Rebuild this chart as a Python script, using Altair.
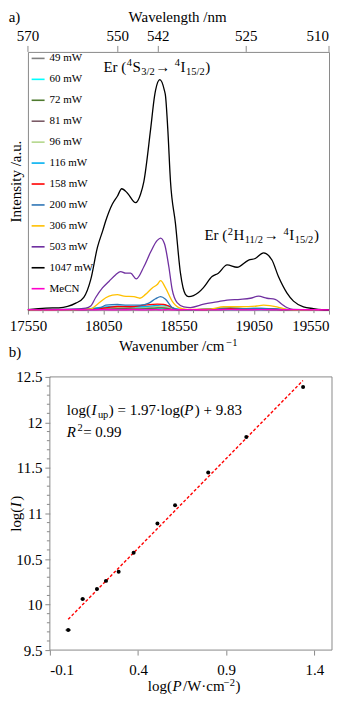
import altair as alt
import pandas as pd

FONT = "Liberation Serif"
FRAME = "#8a8a8a"

# ---------------- panel a: emission spectra ----------------
series_names = ["49 mW", "60 mW", "72 mW", "81 mW", "96 mW", "116 mW", "158 mW",
                "200 mW", "306 mW", "503 mW", "1047 mW", "MeCN"]
series_colors = ["#808080", "#00FFFF", "#4E7A2E", "#7B5B66", "#B4D78C", "#00B0F0",
                 "#FF0000", "#2E75B6", "#FFC000", "#7030A0", "#000000", "#FF00CC"]

wn_1047 = [17550, 17669, 17755, 17868, 17921, 17967, 18012, 18047, 18067, 18111, 18144,
           18173, 18210, 18265, 18298, 18320, 18365, 18391, 18398, 18426, 18456, 18464,
           18479, 18497, 18530, 18563, 18596, 18618, 18683, 18716, 18773, 18815, 18873,
           18939, 19016, 19060, 19115, 19171, 19214, 19270, 19314, 19380, 19446, 19502, 19550]
int_1047 = [0.2, 0.8, 0.9, 2.7, 4.9, 11.8, 24.4, 30.8, 34.6, 41.1, 44.1,
            47.0, 45.4, 41.6, 44.9, 49.8, 70.1, 82.9, 85.2, 89.3, 85.2, 82.9,
            70.1, 49.8, 33.5, 14.4, 6.1, 5.2, 6.8, 8.7, 13.0, 14.3, 17.5,
            16.6, 19.4, 20.0, 22.2, 19.4, 13.0, 6.7, 3.5, 1.3, 0.6, 0.2, 0.1]

wn_503 = [17550, 17700, 17835, 17934, 17967, 18000, 18045, 18088, 18133, 18166, 18199,
          18232, 18270, 18320, 18365, 18409, 18431, 18457, 18486, 18508, 18541, 18585,
          18630, 18718, 18806, 18873, 18961, 19027, 19082, 19138, 19192, 19237, 19270,
          19312, 19400, 19550]
int_503 = [0.2, 0.3, 0.4, 0.8, 1.6, 4.9, 8.6, 11.1, 13.7, 14.9, 14.3,
           14.3, 12.1, 16.8, 22.5, 27.0, 27.9, 25.7, 16.8, 8.0, 2.9, 1.3,
           1.0, 2.3, 3.2, 3.9, 4.2, 4.6, 5.4, 4.6, 4.2, 2.3, 1.0,
           0.3, 0.2, 0.1]

wn_306 = [17550, 17800, 17967, 18012, 18067, 18111, 18144, 18188, 18254, 18294, 18331,
          18376, 18409, 18431, 18464, 18508, 18552, 18608, 18762, 18850, 18961, 19071,
          19115, 19204, 19270, 19400, 19550]
int_306 = [0.1, 0.2, 0.5, 2.3, 4.8, 5.8, 6.0, 5.4, 5.2, 4.6, 6.1,
           8.6, 9.9, 11.4, 8.6, 3.5, 1.0, 0.3, 0.4, 1.3, 1.3, 1.6,
           1.9, 1.3, 0.3, 0.1, 0.1]

wn_200 = [17550, 17800, 17967, 18033, 18067, 18144, 18210, 18298, 18353, 18398, 18431,
          18464, 18508, 18541, 18650, 18800, 18895, 19000, 19100, 19250, 19550]
int_200 = [0.1, 0.2, 0.4, 1.0, 1.9, 2.2, 1.9, 1.9, 2.7, 4.4, 5.2,
           4.2, 1.0, 0.2, 0.2, 0.6, 1.0, 0.6, 0.7, 0.2, 0.1]

wn_158 = [17550, 17800, 17967, 18078, 18144, 18232, 18320, 18409, 18453, 18497, 18541,
          18650, 18800, 18900, 19000, 19100, 19250, 19550]
int_158 = [0.1, 0.2, 0.3, 1.0, 1.4, 1.3, 1.9, 2.3, 2.2, 1.3, 0.2,
           0.2, 0.4, 0.6, 0.5, 0.6, 0.2, 0.1]

wn_small = [17550, 17700, 17850, 17950, 18050, 18150, 18250, 18330, 18400, 18440,
            18480, 18530, 18600, 18750, 18900, 19000, 19100, 19200, 19300, 19550]
int_116 = [0.2, 0.2, 0.3, 0.5, 1.2, 1.5, 1.3, 1.4, 1.8, 2.0, 1.6, 0.6, 0.2, 0.4, 0.6, 0.6, 0.7, 0.5, 0.2, 0.1]
int_96 = [0.1, 0.2, 0.2, 0.4, 0.9, 1.1, 1.0, 1.1, 1.4, 1.5, 1.2, 0.4, 0.2, 0.3, 0.5, 0.5, 0.5, 0.4, 0.1, 0.1]
int_81 = [0.1, 0.1, 0.2, 0.3, 0.7, 0.8, 0.8, 0.9, 1.1, 1.2, 0.9, 0.3, 0.1, 0.3, 0.4, 0.4, 0.4, 0.3, 0.1, 0.0]
int_72 = [0.1, 0.1, 0.1, 0.2, 0.5, 0.6, 0.6, 0.7, 0.8, 0.9, 0.7, 0.2, 0.1, 0.2, 0.3, 0.3, 0.3, 0.2, 0.1, 0.0]
int_60 = [0.1, 0.1, 0.1, 0.2, 0.4, 0.5, 0.5, 0.5, 0.6, 0.7, 0.5, 0.2, 0.1, 0.2, 0.2, 0.2, 0.2, 0.2, 0.1, 0.0]
int_49 = [0.0, 0.1, 0.1, 0.1, 0.3, 0.3, 0.3, 0.4, 0.4, 0.5, 0.4, 0.1, 0.1, 0.1, 0.2, 0.2, 0.2, 0.1, 0.0, 0.0]
int_mecn = [0.2, 0.1, 0.2, 0.1, 0.2, 0.1, 0.2, 0.1, 0.2, 0.1, 0.2, 0.1, 0.2, 0.1, 0.2, 0.1, 0.2, 0.1, 0.2, 0.1]

wavenumber_ticks = [17550, 18050, 18550, 19050, 19550]
wavenumber_minor = [17650, 17750, 17850, 17950, 18150, 18250, 18350, 18450,
                    18650, 18750, 18850, 18950, 19150, 19250, 19350, 19450]
wavelength_labels = ["570", "550", "542", "525", "510"]
wavelength_pos = [17550, 18147, 18416, 19000, 19550]

# ---------------- panel b: power dependence ----------------
logP = [0.004, 0.086, 0.167, 0.218, 0.290, 0.375, 0.510, 0.610, 0.798, 1.014, 1.336]
logI = [9.72, 10.06, 10.17, 10.26, 10.36, 10.57, 10.89, 11.09, 11.45, 11.84, 12.39]
logP_err = [0.015, 0.012, 0.008, 0.008, 0.008, 0.006, 0.006, 0.006, 0.006, 0.006, 0.006]
fit_slope = 1.97
fit_intercept = 9.83
fit_x = [0.004, 1.335]
logI_ticks = [9.5, 10, 10.5, 11, 11.5, 12, 12.5]
logI_minor = [9.6, 9.7, 9.8, 9.9, 10.1, 10.2, 10.3, 10.4, 10.6, 10.7, 10.8, 10.9,
              11.1, 11.2, 11.3, 11.4, 11.6, 11.7, 11.8, 11.9, 12.1, 12.2, 12.3, 12.4]
logP_ticks = [-0.1, 0.4, 0.9, 1.4]

# ---------------- helpers ----------------
TW = {' ': .25, '(': .333, ')': .333, '/': .278, '.': .25, '·': .25, '=': .564, '+': .564,
      '→': 1.0, '−': .564, '-': .333,
      'a': .444, 'b': .5, 'c': .444, 'e': .444, 'g': .5, 'h': .5, 'l': .278, 'm': .778,
      'n': .5, 'o': .5, 'p': .5, 'r': .333, 't': .278, 'u': .5, 'v': .5,
      'E': .611, 'H': .722, 'I': .333, 'P': .556, 'R': .667, 'S': .556, 'W': .944}
TW_IT = {'I': .333, 'P': .611, 'R': .611}


def text_width(s, italic=False):
    return sum((TW_IT[c] if italic and c in TW_IT else TW.get(c, 0.5)) for c in s)


ONE = pd.DataFrame({"k": [0]})


def rich(pieces, x0, y0, size=15, angle=0, anchor="start"):
    sizes = [size * 0.7 if k in ("sub", "sup") else size for _, k in pieces]
    gaps = [1.5 if k == "i" else 0.5 for _, k in pieces]
    total = sum(text_width(t, k == "i") * s + g for (t, k), s, g in zip(pieces, sizes, gaps))
    if anchor == "middle":
        if angle == 0:
            x0 -= total / 2
        else:
            y0 += total / 2
    out = []
    pos = 0.0
    for (t, k), s, g in zip(pieces, sizes, gaps):
        shift = 0.2 * size if k == "sub" else (-0.36 * size if k == "sup" else 0.0)
        if angle == 0:
            x, y = x0 + pos, y0 + shift
        else:
            x, y = x0 + shift, y0 - pos
        out.append(
            alt.Chart(ONE).mark_text(
                text=t, font=FONT, fontSize=s, fontStyle="italic" if k == "i" else "normal",
                align="left", baseline="alphabetic", angle=angle, color="black"
            ).encode(x=alt.value(x), y=alt.value(y))
        )
        pos += text_width(t, k == "i") * s + g
    return out


# ---------------- panel a chart ----------------
spectra = [
    ("49 mW", wn_small, int_49), ("60 mW", wn_small, int_60), ("72 mW", wn_small, int_72),
    ("81 mW", wn_small, int_81), ("96 mW", wn_small, int_96), ("116 mW", wn_small, int_116),
    ("158 mW", wn_158, int_158), ("200 mW", wn_200, int_200), ("306 mW", wn_306, int_306),
    ("503 mW", wn_503, int_503), ("1047 mW", wn_1047, int_1047), ("MeCN", wn_small, int_mecn),
]
rows = []
for name, xs, ys in spectra:
    for xv, yv in zip(xs, ys):
        rows.append({"series": name, "wn": xv, "I": yv})
spec_df = pd.DataFrame(rows)

WA, HA = 302, 259
xscale_a = alt.Scale(domain=[17550, 19550], nice=False, zero=False)

lines = alt.Chart(spec_df).mark_line(strokeWidth=1.3, interpolate="monotone").encode(
    x=alt.X("wn:Q", scale=xscale_a,
            axis=alt.Axis(values=wavenumber_ticks, format="d", tickSize=4, labelPadding=4,
                          labelAlign={"condition": {"test": f"datum.value == {wavenumber_ticks[-1]}",
                                                    "value": "right"}, "value": "center"},
                          title=None, domain=False, grid=False)),
    y=alt.Y("I:Q", scale=alt.Scale(domain=[0, 100], nice=False, zero=False),
            axis=alt.Axis(title="Intensity /a.u.", labels=False, ticks=False, domain=False,
                          grid=False, titlePadding=4)),
    color=alt.Color("series:N", scale=alt.Scale(domain=series_names, range=series_colors),
                    legend=alt.Legend(title=None, orient="none", legendX=2.7, legendY=-1,
                                      symbolType="stroke", symbolSize=169, symbolStrokeWidth=1.6,
                                      labelFont=FONT, labelFontSize=11, labelColor="black",
                                      rowPadding=8, labelOffset=4, padding=0)),
)

minor_a = alt.Chart(pd.DataFrame({"wn": wavenumber_minor})).mark_rule(
    color=FRAME, strokeWidth=1).encode(
    x="wn:Q", y=alt.value(HA), y2=alt.value(HA + 3))

top_df = pd.DataFrame({"wn": wavelength_pos, "nm": wavelength_labels,
                       "last": [False] * (len(wavelength_pos) - 1) + [True]})
top_ticks = alt.Chart(top_df).mark_rule(color=FRAME, strokeWidth=1).encode(
    x="wn:Q", y=alt.value(-6), y2=alt.value(0))
top_labels = alt.Chart(top_df).transform_filter("!datum.last").mark_text(
    font=FONT, fontSize=15, color="black", baseline="alphabetic", align="center").encode(
    x="wn:Q", y=alt.value(-11), text="nm:N")
top_label_last = alt.Chart(top_df).transform_filter("datum.last").mark_text(
    font=FONT, fontSize=15, color="black", baseline="alphabetic", align="right").encode(
    x="wn:Q", y=alt.value(-11), text="nm:N")

texts_a = []
texts_a += rich([("Wavelength /nm", "n")], WA / 2, -30.5, anchor="middle")
texts_a += rich([("a)", "n")], -19.3, -30.5)
texts_a += rich([("Wavenumber /cm", "n"), ("−1", "sup")], WA / 2, HA + 41, anchor="middle")
texts_a += rich([("b)", "n")], -19.3, 306)
texts_a += rich([("Er (", "n"), ("4", "sup"), ("S", "n"), ("3/2", "sub"), ("→", "n"), (" ", "n"),
                 ("4", "sup"), ("I", "n"), ("15/2", "sub"), (")", "n")], 75.7, 20)
texts_a += rich([("Er (", "n"), ("2", "sup"), ("H", "n"), ("11/2", "sub"), ("→", "n"), (" ", "n"),
                 ("4", "sup"), ("I", "n"), ("15/2", "sub"), (")", "n")], 177, 188.6)

panel_a = alt.layer(lines, minor_a, top_ticks, top_labels, top_label_last, *texts_a).properties(
    width=WA, height=HA)

# ---------------- panel b chart ----------------
# panel b's plot sits 22 px to the right of panel a's plot (as in the reference);
# the concat aligns view origins, so the plot rectangle is inset inside a wider view.
SHIFT = 22
WB, HB = 283, 274
pts_df = pd.DataFrame({
    "logP": logP, "logI": logI,
    "lo": [p - e for p, e in zip(logP, logP_err)],
    "hi": [p + e for p, e in zip(logP, logP_err)],
})
fit_df = pd.DataFrame({"x": fit_x, "y": [fit_slope * v + fit_intercept for v in fit_x]})
xscale_b = alt.Scale(domain=[-0.1, 1.5], nice=False, zero=False, range=[SHIFT, SHIFT + WB])
yscale_b = alt.Scale(domain=[9.5, 12.5], nice=False, zero=False)

frame_b = alt.Chart(ONE).mark_rect(fillOpacity=0, stroke=FRAME, strokeWidth=1).encode(
    x=alt.value(SHIFT), x2=alt.value(SHIFT + WB), y=alt.value(0), y2=alt.value(HB))

fit = alt.Chart(fit_df).mark_line(color="#FF0000", strokeDash=[3, 2], strokeWidth=1.4).encode(
    x=alt.X("x:Q", scale=xscale_b,
            axis=alt.Axis(values=logP_ticks, labelExpr="'' + datum.value", tickSize=5,
                          labelPadding=7, title=None, domain=False, grid=False)),
    y=alt.Y("y:Q", scale=yscale_b,
            axis=alt.Axis(values=logI_ticks, format=".1~f", tickSize=5, labelPadding=3,
                          offset=-SHIFT, title=None, domain=False, grid=False)),
)
err = alt.Chart(pts_df).mark_rule(color="black", strokeWidth=1).encode(
    x="lo:Q", x2="hi:Q", y="logI:Q")
pts = alt.Chart(pts_df).mark_circle(size=16, color="black", opacity=1).encode(
    x="logP:Q", y="logI:Q")

minor_b = alt.Chart(pd.DataFrame({"v": logI_minor})).mark_rule(
    color=FRAME, strokeWidth=1).encode(
    y="v:Q", x=alt.value(SHIFT - 3), x2=alt.value(SHIFT))

texts_b = []
texts_b += rich([("log(", "n"), ("I", "i"), ("up", "sub"), (") = 1.97·log(", "n"), ("P", "i"),
                 (") + 9.83", "n")], SHIFT + 17, 38)
texts_b += rich([("R", "i"), ("2", "sup"), (" = 0.99", "n")], SHIFT + 17, 60)
texts_b += rich([("log(", "n"), ("P", "i"), ("/W·cm", "n"), ("−2", "sup"), (")", "n")],
                SHIFT + 145, HB + 41, anchor="middle")
texts_b += rich([("log(", "n"), ("I", "i"), (")", "n")], SHIFT - 29, HB / 2, angle=270,
                anchor="middle")

panel_b = alt.layer(frame_b, fit, err, pts, minor_b, *texts_b).properties(
    width=SHIFT + WB, height=HB, view=alt.ViewConfig(stroke=None))

chart = alt.concat(panel_a, panel_b, columns=1, spacing=9).properties(
    padding=0
).configure_view(
    stroke=FRAME, strokeWidth=1
).configure_axis(
    labelFont=FONT, labelFontSize=15, labelColor="black", tickColor=FRAME,
    titleFont=FONT, titleFontSize=15, titleColor="black", titleFontWeight="normal",
)

chart.save("out.html", embed_options={"renderer": "svg", "actions": False})
